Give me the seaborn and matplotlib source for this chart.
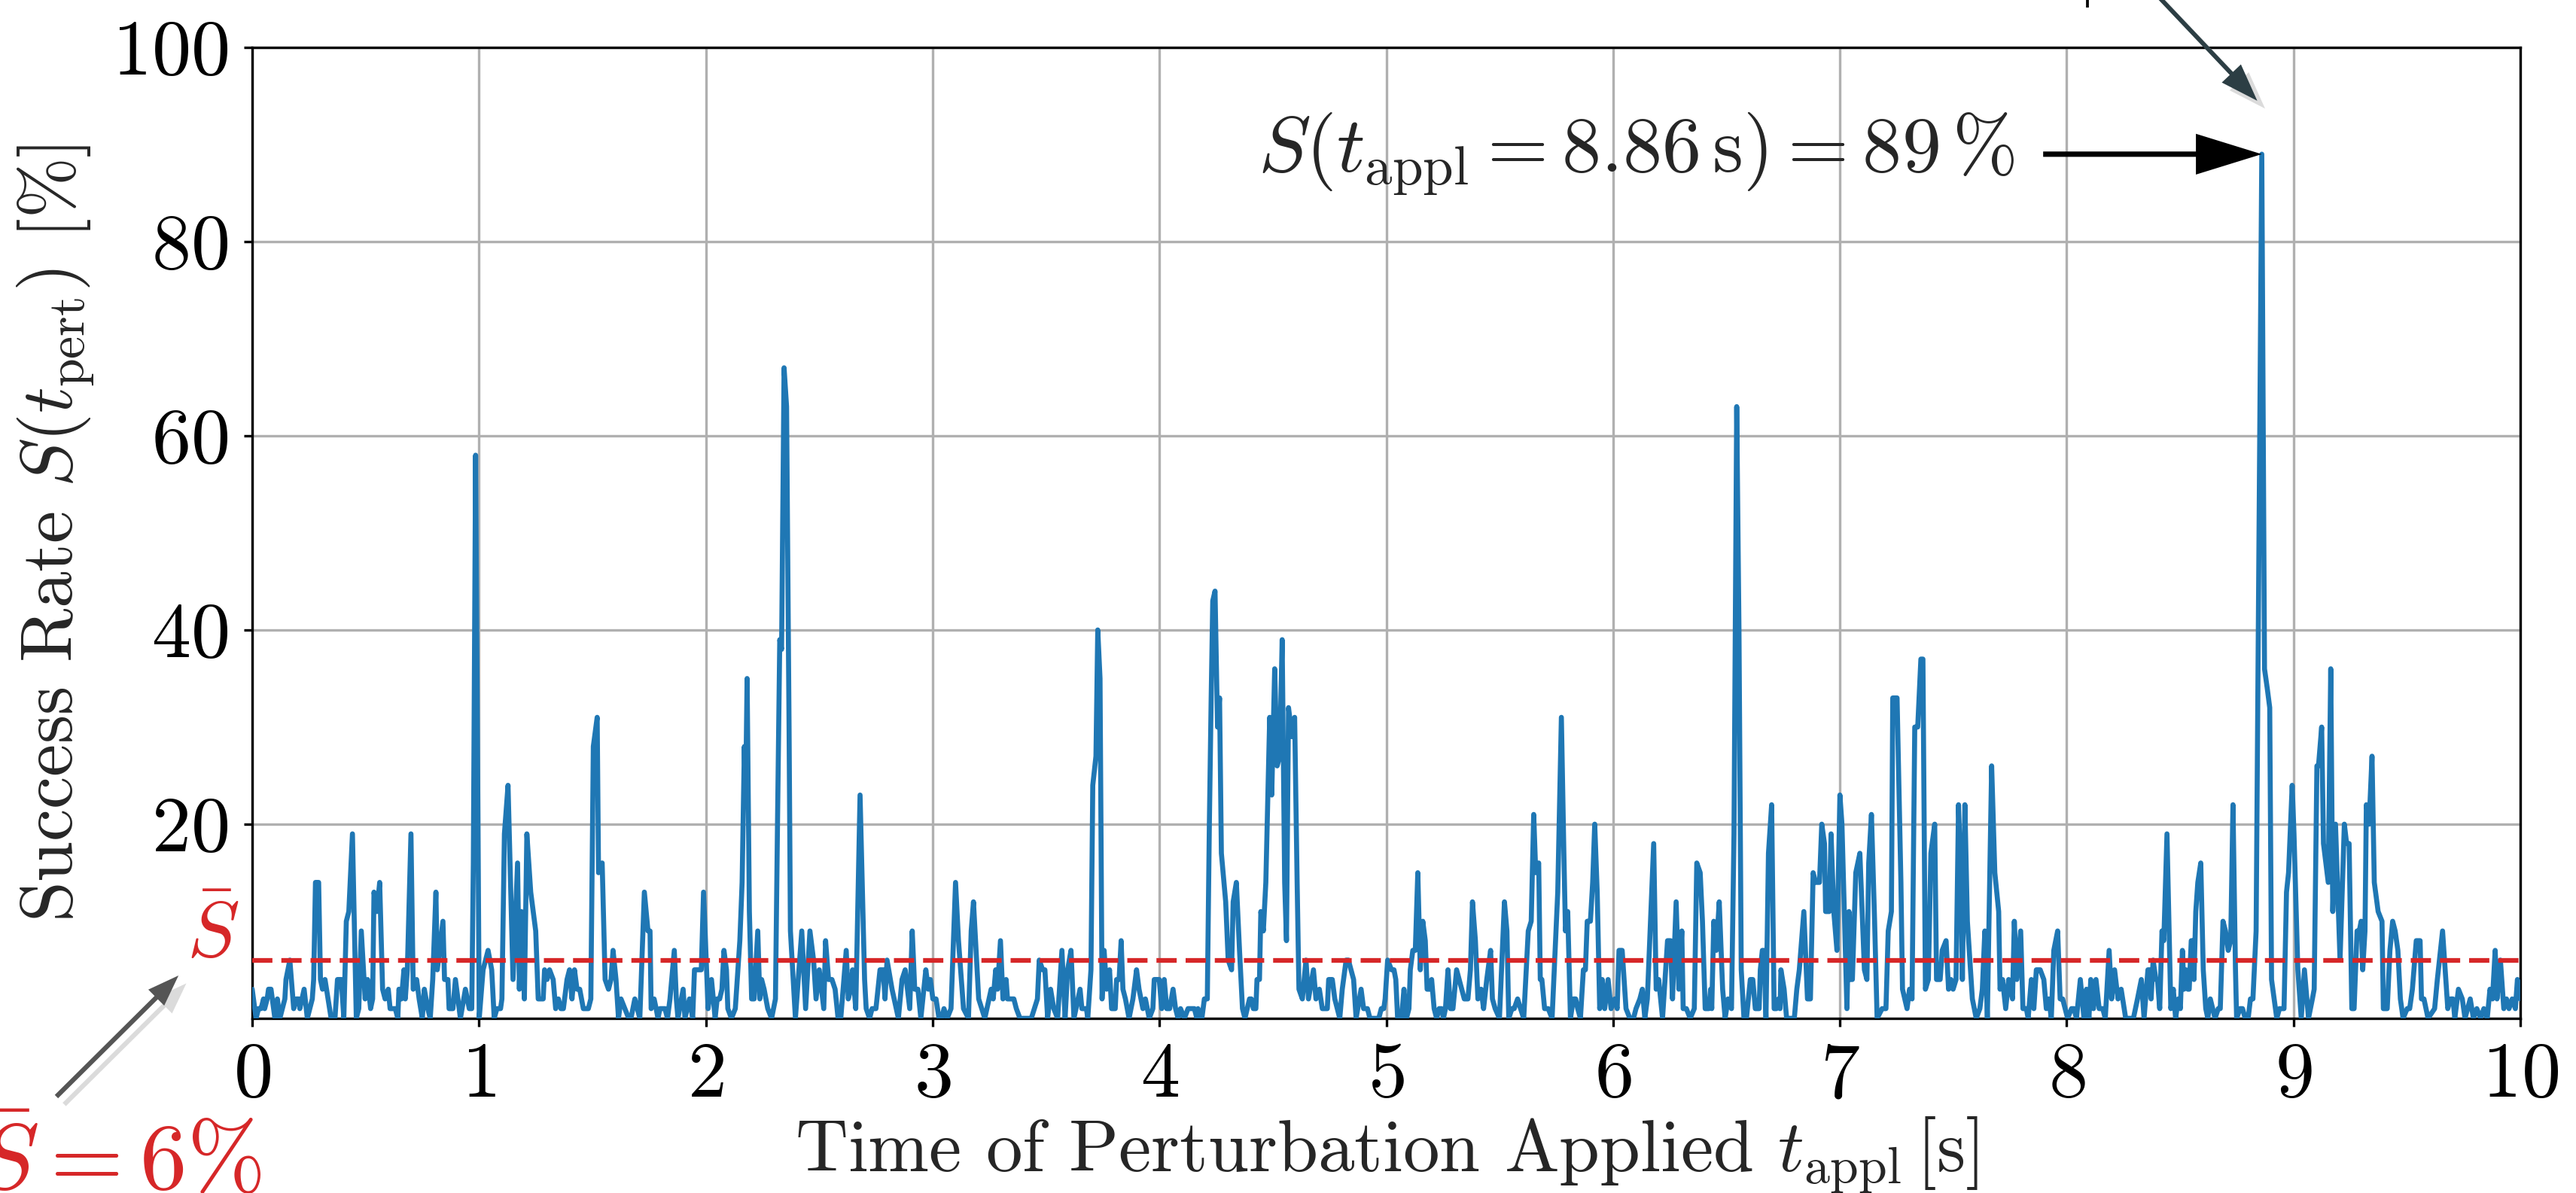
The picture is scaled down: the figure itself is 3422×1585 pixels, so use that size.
import numpy as np
import pandas as pd
import matplotlib
matplotlib.use("Agg")
import matplotlib.pyplot as plt
import matplotlib.patheffects as pe
from matplotlib.patches import FancyArrowPatch
from matplotlib.lines import Line2D
import seaborn as sns

# ---- data: success rate S (in %) over the perturbation time t_appl (in s) ----
t_appl = [
    0.000, 0.017, 0.028, 0.039, 0.050, 0.055, 0.066, 0.072, 0.083, 0.100, 0.111, 0.122, 0.144, 0.149, 0.166, 0.183,
    0.194, 0.205, 0.210, 0.229, 0.243, 0.265, 0.271, 0.279, 0.293, 0.301, 0.310, 0.321, 0.348, 0.365, 0.376, 0.393,
    0.404, 0.415, 0.426, 0.442, 0.459, 0.470, 0.481, 0.498, 0.509, 0.522, 0.531, 0.537, 0.550, 0.562, 0.575, 0.586,
    0.600, 0.608, 0.631, 0.642, 0.647, 0.658, 0.669, 0.675, 0.684, 0.700, 0.710, 0.725, 0.736, 0.750, 0.759, 0.774,
    0.785, 0.796, 0.810, 0.816, 0.841, 0.848, 0.863, 0.868, 0.885, 0.896, 0.918, 0.940, 0.957, 0.968, 0.975, 0.985,
    1.001, 1.018, 1.040, 1.056, 1.067, 1.079, 1.095, 1.101, 1.112, 1.128, 1.150, 1.170, 1.178, 1.187, 1.200, 1.211,
    1.228, 1.250, 1.261, 1.283, 1.289, 1.300, 1.311, 1.327, 1.338, 1.350, 1.361, 1.372, 1.388, 1.399, 1.410, 1.421,
    1.432, 1.444, 1.460, 1.482, 1.493, 1.504, 1.521, 1.527, 1.543, 1.556, 1.571, 1.582, 1.591, 1.604, 1.615, 1.626,
    1.660, 1.670, 1.687, 1.709, 1.729, 1.745, 1.754, 1.759, 1.772, 1.781, 1.789, 1.798, 1.820, 1.831, 1.842, 1.861,
    1.870, 1.877, 1.900, 1.908, 1.928, 1.942, 1.950, 1.980, 1.990, 2.010, 2.025, 2.041, 2.050, 2.061, 2.071, 2.080,
    2.091, 2.097, 2.113, 2.130, 2.150, 2.160, 2.170, 2.175, 2.182, 2.192, 2.202, 2.213, 2.229, 2.238, 2.246, 2.257,
    2.273, 2.290, 2.307, 2.316, 2.326, 2.334, 2.345, 2.356, 2.367, 2.373, 2.395, 2.423, 2.440, 2.459, 2.475, 2.486,
    2.500, 2.520, 2.528, 2.541, 2.556, 2.570, 2.583, 2.595, 2.619, 2.628, 2.639, 2.647, 2.661, 2.680, 2.700, 2.707,
    2.722, 2.733, 2.750, 2.768, 2.782, 2.790, 2.799, 2.821, 2.849, 2.865, 2.879, 2.899, 2.910, 2.921, 2.935, 2.948,
    2.970, 2.981, 2.990, 3.001, 3.015, 3.028, 3.040, 3.050, 3.064, 3.081, 3.101, 3.114, 3.136, 3.158, 3.170, 3.180,
    3.203, 3.230, 3.258, 3.267, 3.278, 3.286, 3.299, 3.310, 3.324, 3.330, 3.358, 3.369,
    3.385, 3.435, 3.462, 3.470, 3.485, 3.495, 3.507, 3.520, 3.534, 3.551, 3.570, 3.584, 3.595, 3.610, 3.623, 3.650,
    3.658, 3.678, 3.684, 3.698, 3.706, 3.720, 3.728, 3.738, 3.747, 3.756, 3.767, 3.780, 3.789, 3.805, 3.811, 3.822,
    3.831, 3.839, 3.850, 3.866, 3.883, 3.899, 3.910, 3.927, 3.938, 3.955, 3.971, 3.977, 3.999, 4.010, 4.021, 4.032,
    4.045, 4.060, 4.071, 4.082, 4.093, 4.110, 4.126, 4.154, 4.165, 4.170, 4.187, 4.198, 4.211, 4.220, 4.228, 4.235,
    4.245, 4.256, 4.265, 4.273, 4.292, 4.303, 4.318, 4.325, 4.339, 4.353, 4.366, 4.377, 4.397, 4.405, 4.414, 4.425,
    4.430, 4.441, 4.447, 4.458, 4.469, 4.486, 4.495, 4.508, 4.519, 4.530, 4.541, 4.552, 4.560, 4.569, 4.585, 4.596,
    4.607, 4.615, 4.630, 4.646, 4.657, 4.679, 4.690, 4.705, 4.718, 4.740, 4.746, 4.762, 4.773, 4.795, 4.806, 4.823,
    4.833, 4.856, 4.867, 4.889, 4.900, 4.917, 4.928, 4.967, 4.978, 4.989,
    4.995, 5.006, 5.023, 5.034, 5.042, 5.050, 5.067, 5.078, 5.089, 5.100, 5.106, 5.117, 5.128, 5.139, 5.150, 5.161,
    5.172, 5.180, 5.192, 5.200, 5.211, 5.222, 5.233, 5.244, 5.252, 5.261, 5.272, 5.283, 5.294, 5.310, 5.344, 5.360,
    5.371, 5.380, 5.393, 5.404, 5.418, 5.429, 5.443, 5.460, 5.468, 5.480, 5.499, 5.521, 5.532, 5.540, 5.554, 5.564,
    5.579, 5.592, 5.606, 5.626, 5.639, 5.650, 5.659, 5.672, 5.679, 5.686, 5.698, 5.714, 5.731, 5.756, 5.772, 5.783,
    5.790, 5.800, 5.812, 5.825, 5.835, 5.844, 5.856, 5.869, 5.878, 5.886, 5.900, 5.910, 5.919, 5.930, 5.941, 5.952,
    5.963, 5.978, 5.991, 6.007, 6.018, 6.026, 6.040, 6.057, 6.074, 6.090, 6.101, 6.118, 6.129, 6.140, 6.151, 6.179,
    6.190, 6.201, 6.218, 6.229, 6.240, 6.253, 6.262, 6.278, 6.290, 6.303, 6.309, 6.323, 6.340, 6.358, 6.369, 6.384,
    6.394, 6.406, 6.422, 6.430, 6.435, 6.444, 6.455, 6.468, 6.483, 6.494, 6.507, 6.522, 6.533, 6.545, 6.555, 6.565,
    6.577, 6.588,
    6.605, 6.616, 6.627, 6.644, 6.649, 6.658, 6.665, 6.674, 6.685, 6.699, 6.710, 6.720, 6.729, 6.736, 6.740, 6.754,
    6.765, 6.799, 6.810, 6.821, 6.841, 6.857, 6.870, 6.882, 6.893, 6.910, 6.920, 6.932, 6.937, 6.953, 6.961, 6.973,
    6.987, 7.000, 7.009, 7.031, 7.040, 7.047, 7.055, 7.070, 7.088, 7.108, 7.119, 7.127, 7.139, 7.153, 7.164, 7.186,
    7.203, 7.213, 7.227, 7.233, 7.252, 7.269, 7.276, 7.296, 7.307, 7.318, 7.330, 7.343, 7.357, 7.366, 7.377, 7.390,
    7.401, 7.418, 7.426, 7.442, 7.451, 7.468, 7.479, 7.490, 7.499, 7.512, 7.523, 7.534, 7.540, 7.551, 7.562, 7.584,
    7.601, 7.617, 7.628, 7.639, 7.650, 7.669, 7.683, 7.700, 7.706, 7.717, 7.731, 7.744, 7.761, 7.769, 7.780, 7.797,
    7.807, 7.822, 7.830, 7.844, 7.855, 7.866, 7.883, 7.899, 7.910, 7.921, 7.932, 7.943, 7.960, 7.971, 7.982, 7.993,
    8.004, 8.021, 8.032, 8.043, 8.060, 8.076, 8.087, 8.098, 8.106, 8.118, 8.129, 8.143, 8.159, 8.170, 8.187, 8.198,
    8.211, 8.226, 8.240,
    8.260, 8.294, 8.312, 8.329, 8.341, 8.358, 8.365, 8.372, 8.381, 8.393, 8.400, 8.410, 8.420, 8.428, 8.442, 8.459,
    8.470, 8.480, 8.492, 8.501, 8.510, 8.517, 8.526, 8.534, 8.540, 8.549, 8.555, 8.561, 8.569, 8.578, 8.591, 8.602,
    8.613, 8.622, 8.633, 8.654, 8.668, 8.677, 8.689, 8.700, 8.712, 8.723, 8.733, 8.744, 8.749, 8.764, 8.775, 8.787,
    8.800, 8.810, 8.821, 8.835, 8.860, 8.872, 8.884, 8.895, 8.903, 8.926, 8.938, 8.958, 8.969, 8.978, 8.994, 9.002,
    9.019, 9.034, 9.048, 9.066, 9.083, 9.091, 9.103, 9.110, 9.124, 9.132, 9.153, 9.164, 9.173, 9.185, 9.205, 9.224,
    9.234, 9.245, 9.257, 9.267, 9.280, 9.290, 9.298, 9.305, 9.315, 9.321, 9.333, 9.346, 9.356, 9.373, 9.390, 9.396,
    9.413, 9.425, 9.437, 9.448, 9.460, 9.471, 9.483, 9.501, 9.512, 9.524, 9.541, 9.558, 9.564, 9.575, 9.593, 9.622,
    9.634, 9.657, 9.680, 9.692, 9.703, 9.711, 9.727, 9.744, 9.756, 9.779, 9.793, 9.808, 9.825, 9.839, 9.854, 9.866,
    9.877, 9.889, 9.897, 9.912, 9.927, 9.939, 9.950, 9.964, 9.978, 9.987, 10.000,
]

success_rate = [
    3, 0, 1, 1, 2, 1, 2, 3, 3, 0, 2, 0, 2, 4, 6, 1,
    2, 2, 1, 3, 0, 2, 4, 14, 14, 4, 3, 4, 0, 0, 4, 4,
    0, 10, 11, 19, 0, 1, 9, 2, 4, 1, 2, 13, 11, 14, 3, 2,
    3, 1, 1, 0, 3, 2, 5, 2, 5, 19, 3, 4, 2, 0, 3, 1,
    0, 4, 13, 5, 10, 4, 4, 1, 1, 4, 0, 3, 1, 1, 16, 58,
    0, 5, 7, 5, 0, 1, 1, 2, 19, 24, 4, 16, 3, 11, 2, 19,
    13, 9, 2, 2, 5, 4, 5, 4, 1, 2, 1, 1, 4, 5, 2, 5,
    3, 3, 1, 1, 2, 28, 31, 15, 16, 4, 3, 4, 7, 4, 0, 2,
    0, 0, 2, 0, 13, 9, 9, 1, 2, 1, 0, 1, 1, 0, 2, 7,
    2, 0, 3, 0, 2, 0, 5, 5, 13, 1, 4, 0, 2, 2, 3, 7,
    5, 1, 0, 1, 8, 14, 28, 22, 35, 11, 2, 2, 9, 2, 4, 3,
    1, 0, 2, 20, 39, 38, 67, 63, 30, 9, 0, 9, 1, 9, 6, 2,
    5, 1, 8, 4, 4, 3, 0, 0, 7, 2, 3, 5, 1, 23, 4, 1,
    0, 1, 1, 5, 5, 2, 6, 3, 0, 4, 5, 1, 9, 3, 3, 0,
    5, 3, 4, 2, 2, 0, 0, 1, 0, 1, 14, 8, 1, 0, 9, 12,
    2, 0, 3, 2, 5, 3, 8, 2, 4, 2, 2, 1,
    0, 0, 2, 6, 5, 5, 0, 3, 1, 0, 7, 0, 5, 7, 0, 3,
    1, 1, 0, 5, 24, 27, 40, 35, 2, 7, 3, 5, 1, 1, 4, 4,
    8, 3, 2, 0, 2, 5, 3, 1, 2, 0, 1, 4, 4, 1, 4, 1,
    1, 3, 1, 0, 1, 0, 1, 1, 0, 1, 0, 2, 2, 20, 33, 43,
    44, 30, 33, 17, 12, 6, 5, 12, 14, 7, 1, 0, 2, 2, 1, 1,
    4, 4, 11, 9, 14, 31, 23, 36, 26, 27, 39, 14, 8, 32, 29, 31,
    14, 3, 2, 6, 2, 5, 2, 3, 1, 1, 4, 4, 2, 0, 3, 6,
    6, 4, 0, 3, 1, 1, 0, 0, 1, 1,
    2, 6, 5, 5, 4, 0, 0, 3, 0, 1, 5, 7, 7, 15, 5, 10,
    8, 3, 3, 4, 1, 0, 1, 1, 0, 1, 5, 1, 1, 5, 2, 2,
    5, 12, 8, 2, 3, 1, 4, 7, 2, 1, 0, 12, 9, 0, 1, 1,
    2, 1, 0, 9, 10, 21, 15, 16, 4, 4, 1, 1, 0, 13, 31, 17,
    9, 11, 0, 2, 2, 1, 0, 5, 5, 10, 10, 14, 20, 13, 1, 4,
    1, 4, 1, 2, 1, 7, 7, 1, 0, 0, 1, 2, 3, 0, 2, 18,
    3, 4, 0, 4, 8, 8, 2, 12, 3, 9, 1, 1, 0, 1, 16, 15,
    10, 1, 1, 3, 1, 10, 7, 12, 3, 0, 2, 1, 19, 63, 40, 5,
    0, 0,
    4, 4, 1, 1, 5, 7, 7, 0, 17, 22, 1, 1, 2, 1, 5, 3,
    0, 0, 3, 5, 11, 2, 2, 15, 14, 14, 20, 18, 11, 11, 19, 11,
    7, 23, 20, 1, 11, 4, 4, 15, 17, 5, 4, 16, 21, 10, 0, 1,
    1, 9, 11, 33, 33, 14, 3, 1, 3, 2, 30, 30, 37, 37, 3, 4,
    17, 20, 4, 4, 7, 8, 3, 4, 3, 4, 22, 14, 4, 22, 10, 2,
    0, 1, 3, 9, 0, 26, 15, 11, 3, 4, 1, 4, 2, 10, 4, 9,
    1, 1, 0, 4, 1, 5, 5, 4, 1, 2, 0, 7, 9, 2, 2, 1,
    0, 1, 1, 0, 4, 0, 3, 0, 4, 1, 4, 1, 1, 0, 7, 2,
    5, 2, 3,
    0, 0, 2, 4, 0, 5, 5, 2, 6, 4, 4, 1, 9, 8, 19, 1,
    3, 0, 2, 1, 7, 3, 5, 3, 3, 8, 8, 4, 11, 14, 16, 5,
    1, 0, 2, 0, 1, 1, 10, 9, 7, 8, 22, 5, 0, 1, 1, 0,
    0, 2, 2, 9, 89, 36, 34, 32, 4, 0, 1, 1, 13, 15, 24, 19,
    5, 0, 5, 0, 2, 3, 26, 26, 30, 18, 14, 36, 11, 20, 6, 20,
    18, 18, 1, 1, 9, 9, 10, 5, 9, 22, 20, 27, 14, 11, 10, 1,
    1, 7, 10, 9, 7, 2, 0, 1, 1, 3, 8, 8, 2, 2, 0, 1,
    4, 9, 1, 2, 2, 0, 3, 2, 0, 2, 0, 1, 0, 1, 0, 3,
    2, 7, 2, 6, 1, 2, 1, 2, 1, 4, 2,
]

mean_success = 6          # average success rate S_bar in %
peak_time = 8.86          # time of the best perturbation in s
peak_success = 89         # success rate at that time in %

x_ticks = list(range(0, 11))
y_ticks = [20, 40, 60, 80, 100]

df = pd.DataFrame({"t": t_appl, "S": success_rate})

# ---- style ----
sns.set_theme(style="whitegrid")
plt.rcParams.update({
    "font.family": ["cmr10", "DejaVu Serif"],
    "mathtext.fontset": "cm",
    "axes.formatter.use_mathtext": True,
    "axes.edgecolor": "black",
    "axes.linewidth": 0.8,
    "grid.color": "#b0b0b0",
    "grid.linewidth": 0.8,
    "xtick.bottom": True,
    "ytick.left": True,
    "xtick.color": "black",
    "ytick.color": "black",
    "xtick.major.size": 2.6,
    "ytick.major.size": 2.6,
    "xtick.major.width": 0.8,
    "ytick.major.width": 0.8,
})

fig = plt.figure(figsize=(3422 / 300, 1585 / 300), dpi=300)
fig.patch.set_facecolor("white")
ax = fig.add_axes([0.0979, 0.1464, 0.8805, 0.8139])
ax.set_facecolor("white")

sns.lineplot(data=df, x="t", y="S", ax=ax, color="#1f77b4", linewidth=1.6,
             estimator=None, sort=False, zorder=3)

ax.axhline(mean_success, color="#d62728", linewidth=1.5, dashes=(4.3, 1.9), zorder=4)

ax.set_xlim(0, 10)
ax.set_ylim(0, 100)
ax.set_xticks(x_ticks)
ax.set_yticks(y_ticks)
ax.tick_params(axis="both", labelsize=25, pad=5)
ax.grid(True, color="#b0b0b0", linewidth=0.8)

ax.set_xlabel(r"Time of Perturbation Applied $t_\mathrm{appl}\,[\mathrm{s}]$", fontsize=23.3, labelpad=1)
ax.set_ylabel(r"Success Rate $S(t_\mathrm{pert})$ [%]", fontsize=23.3, labelpad=5)

# label of the average line, next to the y axis
ax.text(-0.006, mean_success + 0.3, r"$\bar{S}$", color="#d62728", fontsize=25,
        ha="right", va="baseline", transform=ax.get_yaxis_transform())

# peak annotation
ax.annotate(rf"$S(t_\mathrm{{appl}} = {peak_time:.2f}\,\mathrm{{s}}) = {peak_success}\,\%$",
            xy=(peak_time, peak_success), xytext=(7.77, peak_success),
            ha="right", va="center", fontsize=25,
            arrowprops=dict(arrowstyle="simple,head_length=1.05,head_width=0.65,tail_width=0.085",
                            mutation_scale=20, fc="black", ec="black", lw=0,
                            shrinkA=7, shrinkB=0))

shadow = [pe.SimplePatchShadow(offset=(2.5, -2.5), shadow_rgbFace="#9a9a9a", alpha=0.35), pe.Normal()]

# arrow coming in from above towards the peak
top_arrow = ax.annotate("", xy=(8.84, 94.5), xycoords="data",
                        xytext=(0.826, 1.03), textcoords="figure fraction",
                        annotation_clip=False,
                        arrowprops=dict(arrowstyle="simple,head_length=0.6,head_width=0.42,tail_width=0.07",
                                        mutation_scale=20, fc="#2c3e44", ec="#2c3e44", lw=0,
                                        shrinkA=0, shrinkB=0))
top_arrow.arrow_patch.set_path_effects(shadow)

# small stroke at the upper edge, left of the incoming arrow
fig.add_artist(Line2D([0.8103, 0.8103], [0.9935, 1.0], transform=fig.transFigure,
                      color="black", linewidth=0.9, solid_capstyle="butt"))

# average success rate, bottom left
fig.text(0.1014, 0.003, r"$\bar{S} = 6\%$", color="#d62728", fontsize=30,
         ha="right", va="baseline")
low_arrow = fig.add_artist(FancyArrowPatch(
    (0.0219, 0.0808), (0.0693, 0.1823), transform=fig.transFigure,
    arrowstyle="simple,head_length=0.5,head_width=0.36,tail_width=0.075",
    mutation_scale=20, fc="#555555", ec="#555555", lw=0, shrinkA=0, shrinkB=0))
low_arrow.set_path_effects(shadow)

fig.savefig("out.png", dpi=300, facecolor="white")
